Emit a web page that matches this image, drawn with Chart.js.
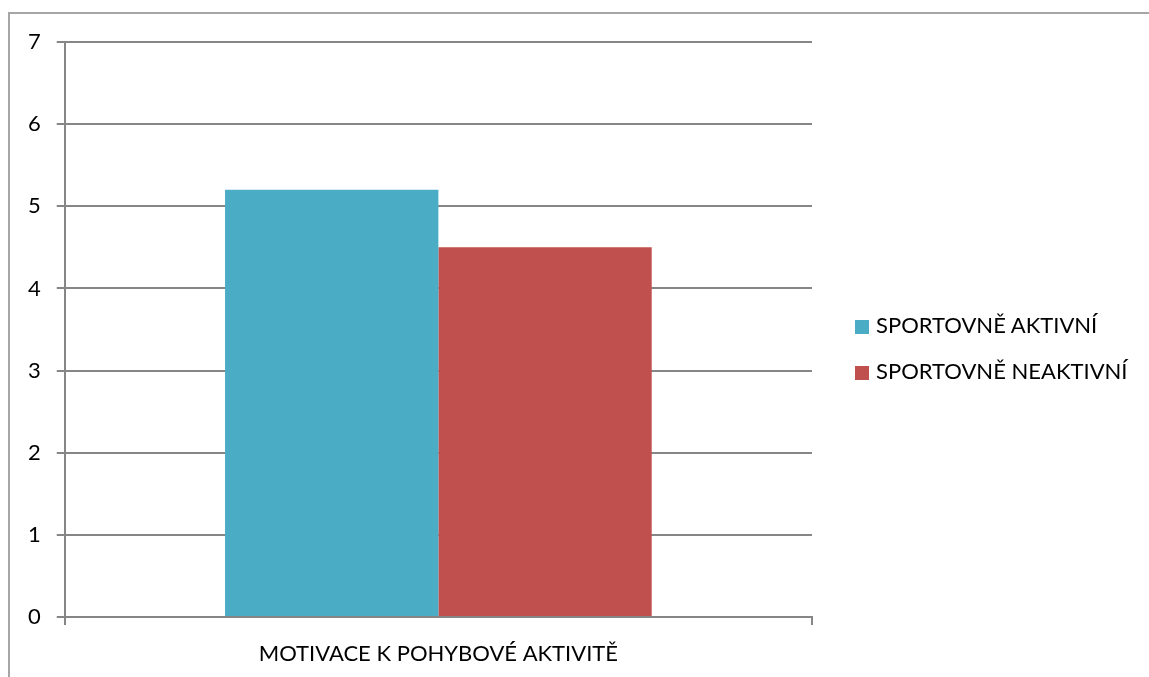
<!DOCTYPE html>
<html>
<head>
<meta charset="utf-8">
<script src="https://cdn.jsdelivr.net/npm/chart.js@4/dist/chart.umd.min.js"></script>
<style>
  html, body { margin: 0; padding: 0; background: #fff; }
  #wrap { position: relative; width: 1149px; height: 677px; overflow: hidden; }
  #frame { position: absolute; left: 8px; top: 12px; width: 1200px; height: 700px;
           border-left: 2px solid #a6a6a6; border-top: 2px solid #a6a6a6; box-sizing: border-box; }
  #myBarChart { position: absolute; left: 0; top: 0; }
  #legend { position: absolute; left: 855px; top: 308px; font-family: 'Lato', sans-serif;
            font-size: 22px; color: #000; }
  #legend div { height: 46px; line-height: 34px; white-space: nowrap; }
  #legend span { display: inline-block; width: 14px; height: 14px; margin-right: 7px;
                 vertical-align: -1px; }
</style>
</head>
<body>
<div id="wrap">
  <div id="frame"></div>
  <canvas id="myBarChart" width="1149" height="677"></canvas>
  <div id="legend"></div>
</div>
<script>
const categories = ['MOTIVACE K POHYBOVÉ AKTIVITĚ'];
const seriesNames = ['SPORTOVNĚ AKTIVNÍ', 'SPORTOVNĚ NEAKTIVNÍ'];
const seriesColors = ['#4BACC6', '#C0504D'];
const activeValues = [5.2];
const inactiveValues = [4.5];
const yTicks = [0, 1, 2, 3, 4, 5, 6, 7];

const ctx = document.getElementById('myBarChart');
const axisColor = '#868686';

const chart = new Chart(ctx, {
    type: 'bar',
    data: {
        labels: categories,
        datasets: [{
            label: seriesNames[0],
            data: activeValues,
            backgroundColor: seriesColors[0]
        }, {
            label: seriesNames[1],
            data: inactiveValues,
            backgroundColor: seriesColors[1]
        }]
    },
    options: {
        responsive: false,
        animation: false,
        layout: {
            padding: { left: 12, top: 42, right: 337, bottom: 16 }
        },
        datasets: {
            bar: { categoryPercentage: 0.571, barPercentage: 1.0 }
        },
        plugins: {
            tooltip: { enabled: false },
            legend: { display: false }
        },
        scales: {
            x: {
                afterFit: function(axis) {
                    axis.height = 44;
                },
                grid: {
                    offset: true,
                    drawOnChartArea: false,
                    color: axisColor,
                    lineWidth: 2,
                    tickLength: 8
                },
                border: { color: axisColor, width: 2 },
                ticks: {
                    color: '#000',
                    padding: 16,
                    font: { family: 'Lato', size: 22 }
                }
            },
            y: {
                min: 0,
                max: 7,
                afterBuildTicks: function(axis) {
                    axis.ticks = yTicks.map(v => ({ value: v }));
                },
                grid: {
                    color: axisColor,
                    lineWidth: 2,
                    tickLength: 8
                },
                border: { color: axisColor, width: 2 },
                ticks: {
                    color: '#000',
                    padding: 16,
                    font: { family: 'Lato', size: 22 }
                }
            }
        }
    }
});

// legend built from the chart's datasets
const legendEl = document.getElementById('legend');
chart.data.datasets.forEach(ds => {
    const row = document.createElement('div');
    const box = document.createElement('span');
    box.style.background = ds.backgroundColor;
    row.appendChild(box);
    row.appendChild(document.createTextNode(ds.label));
    legendEl.appendChild(row);
});
</script>
</body>
</html>
